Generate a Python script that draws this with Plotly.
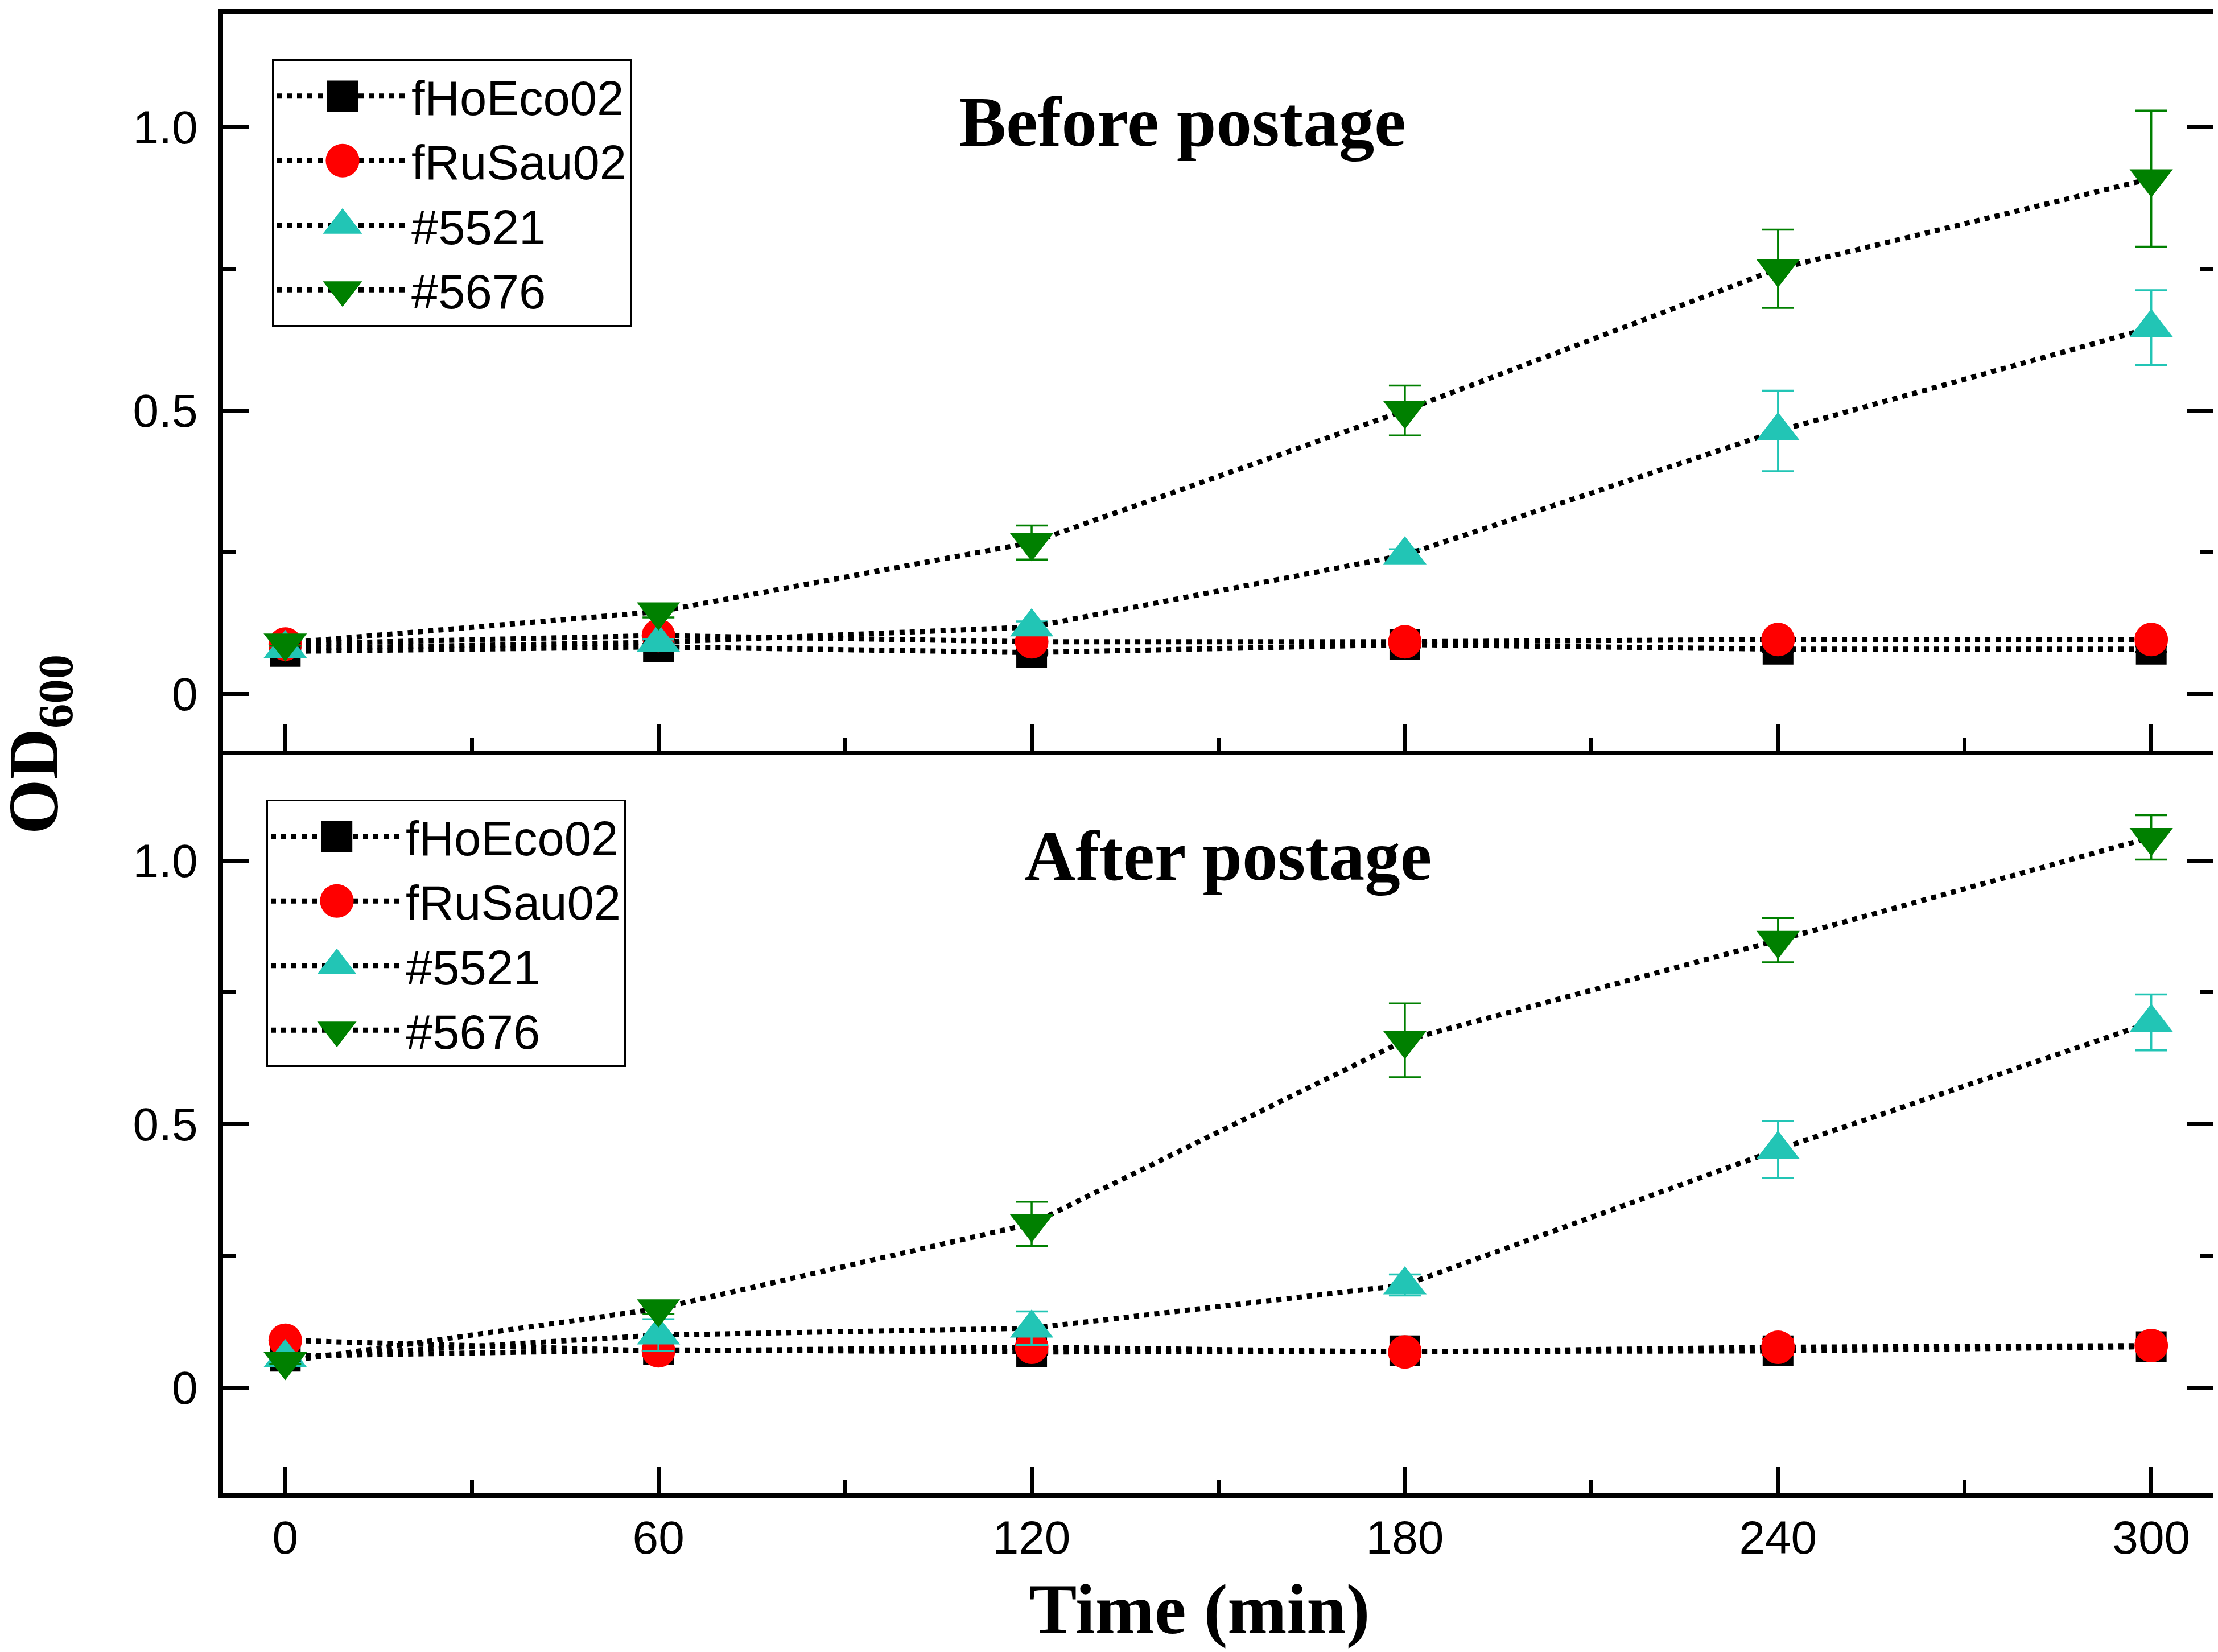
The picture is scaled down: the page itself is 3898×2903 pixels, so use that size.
import plotly.graph_objects as go

# Growth curves, OD600 vs time
time_min = [0, 60, 120, 180, 240, 300]
series_names = ["fHoEco02", "fRuSau02", "#5521", "#5676"]

before_fHoEco02 = [0.075, 0.083, 0.073, 0.087, 0.079, 0.079]
before_fHoEco02_err = [0.004, 0.005, 0.005, 0.005, 0.005, 0.005]
before_fRuSau02 = [0.088, 0.103, 0.092, 0.092, 0.096, 0.096]
before_fRuSau02_err = [0.004, 0.005, 0.005, 0.005, 0.005, 0.005]
before_5521 = [0.080, 0.091, 0.118, 0.245, 0.464, 0.646]
before_5521_err = [0.005, 0.005, 0.010, 0.010, 0.071, 0.066]
before_5676 = [0.090, 0.145, 0.267, 0.500, 0.750, 0.909]
before_5676_err = [0.005, 0.010, 0.030, 0.044, 0.069, 0.120]

after_fHoEco02 = [0.060, 0.072, 0.068, 0.070, 0.070, 0.078]
after_fHoEco02_err = [0.004, 0.005, 0.005, 0.005, 0.005, 0.005]
after_fRuSau02 = [0.090, 0.070, 0.077, 0.068, 0.077, 0.080]
after_fRuSau02_err = [0.004, 0.010, 0.010, 0.010, 0.015, 0.010]
after_5521 = [0.057, 0.100, 0.113, 0.195, 0.452, 0.693]
after_5521_err = [0.005, 0.030, 0.032, 0.020, 0.054, 0.053]
after_5676 = [0.050, 0.150, 0.311, 0.659, 0.849, 1.044]
after_5676_err = [0.005, 0.010, 0.042, 0.070, 0.042, 0.042]

x_ticks = [0, 60, 120, 180, 240, 300]
y_ticks = [0, 0.5, 1.0]
y_tick_text = ["0", "0.5", "1.0"]

colors = ["#000000", "#FF0000", "#22C5B5", "#008000"]
symbols = ["square", "circle", "triangle-up", "triangle-down"]
sizes = [54, 59, 66, 66]

W, H = 3898, 2903
sans = "Liberation Sans, Arial, sans-serif"
serif = "Liberation Serif, Times New Roman, serif"

fig = go.Figure()

before = [(before_fHoEco02, before_fHoEco02_err), (before_fRuSau02, before_fRuSau02_err),
          (before_5521, before_5521_err), (before_5676, before_5676_err)]
after = [(after_fHoEco02, after_fHoEco02_err), (after_fRuSau02, after_fRuSau02_err),
         (after_5521, after_5521_err), (after_5676, after_5676_err)]

for data, xa, ya, lg in [(before, "x", "y", "legend"), (after, "x2", "y2", "legend2")]:
    for i, (vals, errs) in enumerate(data):
        fig.add_trace(go.Scatter(
            x=time_min, y=vals, name=series_names[i], mode="lines+markers",
            xaxis=xa, yaxis=ya, legend=lg,
            line=dict(color="black", width=9, dash="dot"),
            marker=dict(symbol=symbols[i], size=sizes[i], color=colors[i], line=dict(width=0)),
            error_y=dict(type="data", array=errs, visible=True, color=colors[i], thickness=3.5, width=28),
        ))

minor_ticks = dict(ticks="inside", ticklen=23, tickwidth=7, tickcolor="black")
axis_common = dict(
    showline=True, linecolor="black", linewidth=8, mirror=True,
    ticks="inside", ticklen=46, tickwidth=7, tickcolor="black",
    showgrid=False, zeroline=False,
    tickfont=dict(family=sans, size=82, color="black"),
)

# axis lines are drawn outside the domain, so domains are inset by half a line width
top_dom = [1 - 1311 / H, 1 - 16 / H]
bot_dom = [1 - 2616 / H, 1 - 1319 / H]
x_dom = [384 / W, 3882 / W]

legend_common = dict(xanchor="left", yanchor="top", bordercolor="black", borderwidth=3, bgcolor="white",
                     font=dict(family=sans, size=85, color="black"), itemwidth=232, tracegroupgap=0)

fig.update_layout(
    width=W, height=H,
    margin=dict(l=0, r=0, t=0, b=0),
    paper_bgcolor="white", plot_bgcolor="white",
    xaxis=dict(axis_common, domain=x_dom, range=[-10, 310], tickvals=x_ticks, showticklabels=False,
               anchor="y", minor=dict(minor_ticks, dtick=30, tick0=0)),
    yaxis=dict(axis_common, domain=top_dom, range=[-0.1, 1.2], tickvals=y_ticks, ticktext=y_tick_text,
               anchor="x", mirror="ticks", ticklabelstandoff=20,
               minor=dict(minor_ticks, dtick=0.25, tick0=0)),
    xaxis2=dict(axis_common, domain=x_dom, range=[-10, 310], tickvals=x_ticks, anchor="y2",
                ticklabelstandoff=0, minor=dict(minor_ticks, dtick=30, tick0=0)),
    yaxis2=dict(axis_common, domain=bot_dom, range=[-0.2, 1.2], tickvals=y_ticks, ticktext=y_tick_text,
                anchor="x2", mirror="ticks", ticklabelstandoff=20,
                minor=dict(minor_ticks, dtick=0.25, tick0=0)),
    legend=dict(legend_common, x=470 / W, y=1 - 96 / H),
    legend2=dict(legend_common, x=460 / W, y=1 - 1397 / H),
    showlegend=True,
)

titles = [
    ("<b>Before postage</b>", 2070, 207, 0, 125),
    ("<b>After postage</b>", 2150, 1496, 0, 125),
    ("<b>Time (min)</b>", 2100, 2820, 0, 125),
    ("<b>OD<sub>600</sub></b>", 60, 1300, -90, 124),
]
for text, px, py, angle, size in titles:
    fig.add_annotation(text=text, x=px / W, y=1 - py / H, xref="paper", yref="paper",
                       xanchor="center", yanchor="middle", showarrow=False, textangle=angle,
                       font=dict(family=serif, size=size, color="black"))

# legend symbols in plotly are capped at 16px, enlarge them to match the marker size on the plot
post = """
var gd = document.getElementById('{plot_id}');
function growLegend() {
  gd.querySelectorAll('.legendpoints path.scatterpts').forEach(function (p) {
    var t = p.getAttribute('transform') || '';
    if (t.indexOf('scale') >= 0) { return; }
    var d = p.getAttribute('d') || '';
    var k = d.indexOf('A') >= 0 ? 3.7 : (d.indexOf('L') >= 0 ? 3.75 : 3.4);
    p.setAttribute('transform', t + ' scale(' + k + ')');
  });
}
growLegend();
gd.on('plotly_afterplot', growLegend);
"""

fig.write_html("out.html", post_script=post)
